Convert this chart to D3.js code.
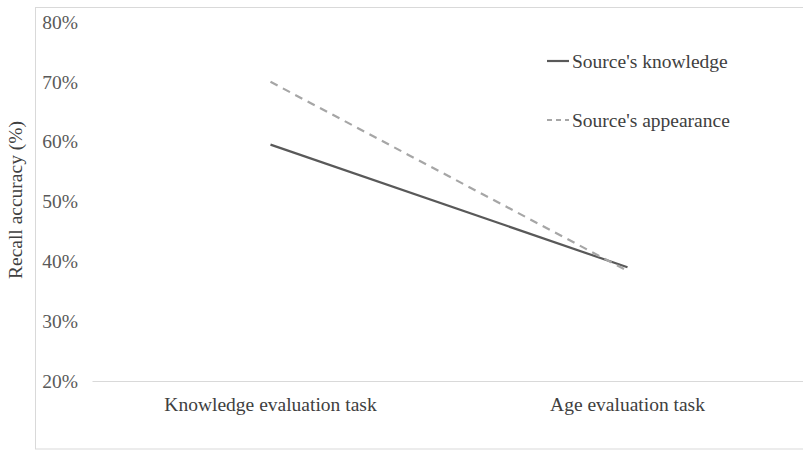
<!DOCTYPE html>
<html>
<head>
<meta charset="utf-8">
<script src="https://cdn.jsdelivr.net/npm/d3@7"></script>
<style>
  body { margin: 0; background: #fff; }
</style>
</head>
<body>
<script>
// chart data
const categories = ['Knowledge evaluation task', 'Age evaluation task']
const knowledgeSeries = [59.5, 39.0]
const appearanceSeries = [70.0, 38.4]
const yTicks = [20, 30, 40, 50, 60, 70, 80]

const series = [
  { name: "Source's knowledge", values: knowledgeSeries, color: '#595959', dash: null },
  { name: "Source's appearance", values: appearanceSeries, color: '#a6a6a6', dash: '8,6' }
]

var config = {
  width: 803,
  height: 450,
  left: 92,
  right: 806,
  top: 22,
  bottom: 381,
  fontSize: 19.5,
  font: "'Liberation Serif', 'Times New Roman', serif"
}

var svg = d3.select('body').append('svg')
    .attr('width', config.width)
    .attr('height', config.height)
    .style('font-family', config.font)

// outer chart frame (runs off right/bottom edge like the original crop)
svg.append('rect')
    .attr('x', 35.5).attr('y', 7.5)
    .attr('width', 800).attr('height', 441.5)
    .attr('fill', 'none')
    .attr('stroke', '#d9d9d9')

var x = d3.scaleBand()
    .domain(categories)
    .range([config.left, config.right])

var y = d3.scaleLinear()
    .domain([20, 80])
    .range([config.bottom, config.top])

// y tick labels, no axis line
var yAxis = d3.axisLeft(y)
    .tickValues(yTicks)
    .tickFormat(d => d + '%')
    .tickSize(0)
    .tickPadding(0)

var yg = svg.append('g')
    .attr('transform', 'translate(78,0)')
    .call(yAxis)
    .attr('font-family', null)
    .attr('font-size', null)
yg.select('.domain').remove()
yg.selectAll('text')
    .attr('x', 0)
    .style('font-family', config.font)
    .style('font-size', config.fontSize + 'px')
    .style('fill', '#595959')

// x axis baseline + labels
var xAxis = d3.axisBottom(x).tickSize(0).tickPadding(16)
var xg = svg.append('g')
    .attr('transform', 'translate(0,' + config.bottom + ')')
    .call(xAxis)
    .attr('font-family', null)
    .attr('font-size', null)
xg.select('.domain').attr('stroke', '#d9d9d9').attr('stroke-width', 1.2)
xg.selectAll('text')
    .style('font-family', config.font)
    .style('font-size', config.fontSize + 'px')
    .style('fill', '#404040')

// y axis title
svg.append('text')
    .attr('transform', 'translate(22,200) rotate(-90)')
    .attr('text-anchor', 'middle')
    .style('font-family', config.font)
    .style('font-size', config.fontSize + 'px')
    .style('fill', '#404040')
    .text('Recall accuracy (%)')

var line = d3.line()
    .x((d, i) => x(categories[i]) + x.bandwidth() / 2)
    .y(d => y(d))

series.forEach(s => {
  svg.append('path')
      .datum(s.values)
      .attr('d', line)
      .attr('fill', 'none')
      .attr('stroke', s.color)
      .attr('stroke-width', 2.2)
      .attr('stroke-dasharray', s.dash)
})

// legend
var legend = svg.append('g')
    .attr('transform', 'translate(547,61)')

series.forEach((s, i) => {
  var g = legend.append('g').attr('transform', 'translate(0,' + i * 59 + ')')
  g.append('line')
      .attr('x1', 0).attr('x2', 22)
      .attr('stroke', s.color)
      .attr('stroke-width', 2.2)
      .attr('stroke-dasharray', s.dash ? '5,4' : null)
  g.append('text')
      .attr('x', 25)
      .attr('dy', '0.35em')
      .style('font-family', config.font)
      .style('font-size', config.fontSize + 'px')
      .style('fill', '#404040')
      .text(s.name)
})
</script>
</body>
</html>
